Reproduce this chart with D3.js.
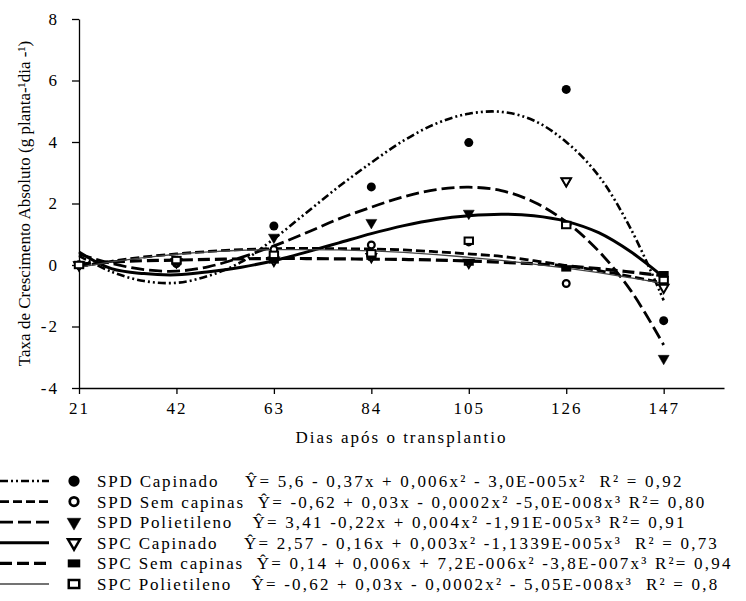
<!DOCTYPE html>
<html>
<head>
<meta charset="utf-8">
<script src="https://cdn.jsdelivr.net/npm/d3@7"></script>
<style>
body { margin: 0; background: #fff; }
svg text { font-family: "Liberation Serif", "Times New Roman", serif; fill: #000; }
</style>
</head>
<body>
<div class="chart"></div>
<script>
// sampling days (observed) and days used to trace the fitted curves
var days = [21, 42, 63, 84, 105, 126, 147];
var fitDays = [21, 28, 35, 42, 49, 56, 63, 70, 77, 84, 91, 98, 105, 112, 119, 126, 133, 140, 147];

var yTicks = [-4, -2, 0, 2, 4, 6, 8];
var xTicks = [21, 42, 63, 84, 105, 126, 147];

var seriesNames = ['SPD Capinado', 'SPD Sem capinas', 'SPD Polietileno', 'SPC Capinado', 'SPC Sem capinas', 'SPC Polietileno'];
var equations = [
    '    Ŷ= 5,6 - 0,37x + 0,006x² - 3,0E-005x²  R² = 0,92',
    '  Ŷ= -0,62 + 0,03x - 0,0002x² -5,0E-008x³ R²= 0,80',
    '   Ŷ= 3,41 -0,22x + 0,004x² -1,91E-005x³ R²= 0,91',
    '    Ŷ= 2,57 - 0,16x + 0,003x² -1,1339E-005x³  R² = 0,73',
    '  Ŷ= 0,14 + 0,006x + 7,2E-006x² -3,8E-007x³ R²= 0,94',
    '   Ŷ= -0,62 + 0,03x - 0,0002x² - 5,05E-008x³  R² = 0,8'
];

// observed values (g planta-1 dia-1)
var spdCapinadoObs = [0, 0.05, 1.27, 2.54, 3.98, 5.71, -1.81];
var spdSemCapObs = [0, 0.1, 0.5, 0.65, 0.75, -0.6, -0.45];
var spdPoliObs = [0, 0.1, 0.9, 1.38, 1.68, 2.73, -3.04];
var spcCapinadoObs = [0, 0.1, 0.15, 0.27, 0.08, 2.73, -0.73];
var spcSemCapObs = [0, 0.1, 0.15, 0.27, 0.08, -0.11, -0.3];
var spcPoliObs = [0, 0.16, 0.33, 0.38, 0.79, 1.3, -0.49];

// fitted curves
var spdCapinadoFit = [0.3, -0.22, -0.52, -0.58, -0.35, 0.1, 0.85, 1.7, 2.55, 3.33, 4.05, 4.6, 4.92, 4.98, 4.7, 4.0, 2.9, 1.15, -1.15];
var spdSemCapFit = [-0.05, 0.12, 0.26, 0.36, 0.44, 0.5, 0.53, 0.54, 0.53, 0.52, 0.49, 0.43, 0.36, 0.28, 0.14, -0.02, -0.18, -0.38, -0.58];
var spdPoliFit = [0.35, 0.05, -0.15, -0.2, -0.05, 0.25, 0.62, 1.05, 1.5, 1.88, 2.22, 2.45, 2.53, 2.42, 2.05, 1.4, 0.45, -0.85, -2.6];
var spcCapinadoFit = [0.42, -0.12, -0.28, -0.32, -0.22, -0.07, 0.14, 0.42, 0.72, 1.02, 1.28, 1.48, 1.6, 1.65, 1.6, 1.42, 1.05, 0.42, -0.4];
var spcSemCapFit = [0.03, 0.1, 0.14, 0.16, 0.18, 0.2, 0.21, 0.21, 0.2, 0.19, 0.18, 0.16, 0.13, 0.09, 0.04, -0.03, -0.12, -0.23, -0.35];
var spcPoliFit = [-0.08, 0.1, 0.24, 0.35, 0.43, 0.48, 0.5, 0.5, 0.49, 0.46, 0.41, 0.34, 0.25, 0.15, 0.03, -0.1, -0.25, -0.42, -0.6];

var obs = [spdCapinadoObs, spdSemCapObs, spdPoliObs, spcCapinadoObs, spcSemCapObs, spcPoliObs];
var fits = [spdCapinadoFit, spdSemCapFit, spdPoliFit, spcCapinadoFit, spcSemCapFit, spcPoliFit];

var FONT = '"Liberation Serif", "Times New Roman", serif';

// drawing styles, one per series
var lineStyles = [
    { dash: '8,3,2,3,2,3', width: 2.6, color: '#000' },
    { dash: '9,4', width: 2.8, color: '#000' },
    { dash: '13,5', width: 2.8, color: '#000' },
    { dash: null, width: 3, color: '#000' },
    { dash: '12,5', width: 3.2, color: '#000' },
    { dash: null, width: 1.3, color: '#444' }
];
var markerTypes = ['circleFilled', 'circleOpen', 'triFilled', 'triOpen', 'rectFilled', 'rectOpen'];

var series = seriesNames.map(function (name, i) {
    return {
        name: name,
        equation: equations[i],
        points: days.map(function (d, j) { return { x: d, y: obs[i][j] }; }),
        curve: fitDays.map(function (d, j) { return { x: d, y: fits[i][j] }; }),
        style: lineStyles[i],
        marker: markerTypes[i]
    };
});

draw();

function drawMarker(g, type, k) {
    if (type === 'circleFilled') {
        g.append('circle').attr('r', 4.5 * k).attr('fill', '#000');
    } else if (type === 'circleOpen') {
        g.append('circle').attr('r', 3.4 * k).attr('fill', '#fff')
            .attr('stroke', '#000').attr('stroke-width', 2.2 * k);
    } else if (type === 'triFilled' || type === 'triOpen') {
        var open = type === 'triOpen';
        g.append('path')
            .attr('d', d3.symbol(d3.symbolTriangle, (open ? 40 : 52) * k * k)())
            .attr('transform', 'rotate(180)')
            .attr('fill', open ? '#fff' : '#000')
            .attr('stroke', '#000')
            .attr('stroke-width', open ? 2 * k : 0.5);
    } else if (type === 'rectFilled') {
        g.append('rect').attr('x', -5 * k).attr('y', -3.2 * k)
            .attr('width', 10 * k).attr('height', 6.4 * k).attr('fill', '#000');
    } else {
        g.append('rect').attr('x', -4.2 * k).attr('y', -3.2 * k)
            .attr('width', 8.4 * k).attr('height', 6.4 * k).attr('fill', '#fff')
            .attr('stroke', '#000').attr('stroke-width', 2 * k);
    }
}

function draw() {
    var width = 746;
    var height = 601;

    var svg = d3.select('.chart')
        .append('svg')
        .attr('width', width)
        .attr('height', height);

    var x = d3.scaleLinear().domain([21, 160]).range([79, 724]);
    var y = d3.scaleLinear().domain([-4, 8]).range([388, 19]);

    // axes
    var xAxis = svg.append('g')
        .attr('transform', 'translate(0,' + y(-4) + ')')
        .call(d3.axisBottom(x).tickValues(xTicks).tickSize(6).tickSizeOuter(0)
            .tickFormat(function (d) { return String(d); }));
    xAxis.attr('font-family', null);
    xAxis.selectAll('text')
        .attr('y', 14)
        .style('font-family', FONT)
        .style('font-size', '17px')
        .style('letter-spacing', '2px');

    var yAxis = svg.append('g')
        .attr('transform', 'translate(' + x(21) + ',0)')
        .call(d3.axisLeft(y).tickValues(yTicks).tickSize(7).tickSizeOuter(0)
            .tickFormat(function (d) { return String(d); }));
    yAxis.attr('font-family', null);
    yAxis.selectAll('text')
        .attr('x', -20)
        .style('font-family', FONT)
        .style('font-size', '17px')
        .style('letter-spacing', '2px');

    svg.selectAll('.domain, .tick line')
        .attr('stroke', '#000')
        .attr('stroke-width', 1.3);

    svg.append('text')
        .attr('x', (x(21) + x(160)) / 2)
        .attr('y', 443)
        .attr('text-anchor', 'middle')
        .style('font-family', FONT)
        .style('font-size', '17px')
        .style('letter-spacing', '2px')
        .text('Dias após o transplantio');

    svg.append('text')
        .attr('transform', 'translate(30,' + (y(-4) + y(8)) / 2 + ') rotate(-90)')
        .attr('text-anchor', 'middle')
        .style('font-family', FONT)
        .style('font-size', '17px')
        .text('Taxa de Crescimento Absoluto (g planta-¹dia -¹)');

    // fitted curves
    var line = d3.line()
        .x(function (d) { return x(d.x); })
        .y(function (d) { return y(d.y); })
        .curve(d3.curveCatmullRom.alpha(0.5));

    svg.selectAll('.fit')
        .data(series)
        .enter()
        .append('path')
        .attr('class', 'fit')
        .attr('d', function (d) { return line(d.curve); })
        .attr('fill', 'none')
        .attr('stroke', function (d) { return d.style.color; })
        .attr('stroke-width', function (d) { return d.style.width; })
        .attr('stroke-dasharray', function (d) { return d.style.dash; });

    // observed points
    series.forEach(function (s) {
        svg.append('g')
            .selectAll('g')
            .data(s.points)
            .enter()
            .append('g')
            .attr('transform', function (d) { return 'translate(' + x(d.x) + ',' + y(d.y) + ')'; })
            .each(function () { drawMarker(d3.select(this), s.marker, 1); });
    });

    // legend
    var legend = svg.append('g');
    var rowY = d3.scaleLinear().domain([0, 5]).range([481, 584]);

    series.forEach(function (s, i) {
        var row = legend.append('g').attr('transform', 'translate(0,' + rowY(i) + ')');
        row.append('line')
            .attr('x1', 0).attr('x2', 49)
            .attr('stroke', s.style.color)
            .attr('stroke-width', s.style.width)
            .attr('stroke-dasharray', s.style.dash);
        var m = row.append('g').attr('transform', 'translate(74,0)');
        drawMarker(m, s.marker, 1.25);
        var t = row.append('text')
            .attr('x', 97)
            .attr('y', 6)
            .style('font-family', FONT)
            .style('font-size', '17px')
            .style('white-space', 'pre');
        t.append('tspan')
            .style('letter-spacing', '1.8px')
            .text(s.name);
        t.append('tspan')
            .style('letter-spacing', '2.2px')
            .text(s.equation);
    });
}
</script>
</body>
</html>
